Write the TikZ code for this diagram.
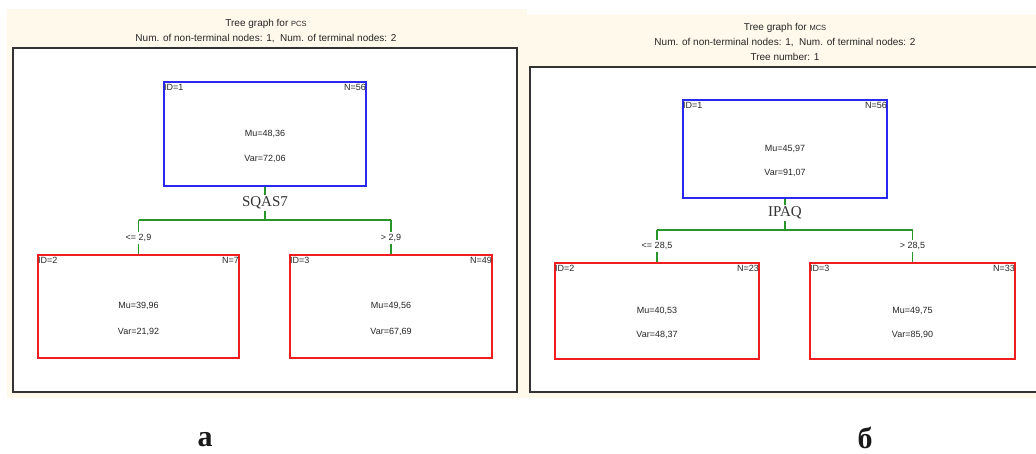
\documentclass[tikz,border=0pt]{standalone}
\usepackage{fontspec}
\setmainfont{Liberation Sans}
\newfontfamily\serifA{Liberation Serif}
\definecolor{cream}{RGB}{255,249,236}
\definecolor{boxblue}{RGB}{40,40,240}
\definecolor{boxred}{RGB}{240,30,30}
\definecolor{linegreen}{RGB}{40,150,40}
\begin{document}
\begin{tikzpicture}[x=1pt,y=-1pt,
  txt/.style={font=\fontsize{9}{10}\selectfont, inner sep=0pt, text=black!85},
  ttl/.style={font=\fontsize{10}{11}\selectfont, inner sep=0pt, text=black!85},
  rootbox/.style={draw=boxblue, line width=1.2pt, inner sep=0pt},
  leafbox/.style={draw=boxred, line width=1.2pt, inner sep=0pt},
  splitlbl/.style={font=\serifA\fontsize{15}{16}\selectfont, inner sep=2pt, text=black!80},
  condlbl/.style={font=\fontsize{9}{10}\selectfont, inner sep=2pt, text=black!85},
  conn/.style={draw=linegreen, line width=1.1pt},
  frame/.style={draw=black!80, line width=1.3pt, fill=white},
  caption/.style={font=\serifA\bfseries\fontsize{30}{32}\selectfont, inner sep=0pt, text=black!90},
  corner/.style={font=\fontsize{9}{10}\selectfont, inner sep=0pt, text=black!85}
]
\useasboundingbox (0,0) rectangle (1036,454);
\fill[white] (0,0) rectangle (1036,454);
% backgrounds
\fill[cream] (7,9) rectangle (527,398);
\fill[cream] (520,15) rectangle (1036,398);
% frames
\draw[frame] (13,48) rectangle (517,392);
\draw[frame] (530,67) rectangle (1040,392);

% ---------- panel a ----------
\node[ttl] (ta1) at (266,24) {Tree graph for {\fontsize{7.5}{8}\selectfont PCS}};
\node[ttl] (ta2) at (266,39) {Num. of non-terminal nodes: 1,\ \ Num. of terminal nodes: 2};

\node[rootbox, minimum width=202, minimum height=104] (a1) at (265,134) {};
\node[corner, anchor=north west] (a1id) at ([xshift=0.5,yshift=-3]a1.north west) {ID=1};
\node[corner, anchor=north east] (a1n) at ([xshift=-0.5,yshift=-3]a1.north east) {N=56};
\node[txt] (a1mu) at (265,134) {Mu=48,36};
\node[txt] (a1var) at (265,159) {Var=72,06};

\node[leafbox, minimum width=201, minimum height=103] (a2) at (138.5,306.5) {};
\node[corner, anchor=north west] (a2id) at ([xshift=0.5,yshift=-3]a2.north west) {ID=2};
\node[corner, anchor=north east] (a2n) at ([xshift=-0.5,yshift=-3]a2.north east) {N=7};
\node[txt] (a2mu) at (138.5,306) {Mu=39,96};
\node[txt] (a2var) at (138.5,332) {Var=21,92};

\node[leafbox, minimum width=202, minimum height=103] (a3) at (391,306.5) {};
\node[corner, anchor=north west] (a3id) at ([xshift=0.5,yshift=-3]a3.north west) {ID=3};
\node[corner, anchor=north east] (a3n) at ([xshift=-0.5,yshift=-3]a3.north east) {N=49};
\node[txt] (a3mu) at (391,306) {Mu=49,56};
\node[txt] (a3var) at (391,332) {Var=67,69};

\node[splitlbl] (as) at (265,203) {SQAS7};
\coordinate (aj) at (265,220);
\coordinate (al) at (138.5,220);
\coordinate (ar) at (391,220);
\node[condlbl] (acl) at (138.5,238) {<= 2,9};
\node[condlbl] (acr) at (391,238) {> 2,9};
\draw[conn] (a1.south) -- (as.north);
\draw[conn] (as.south) -- (aj);
\draw[conn] (al) -- (ar);
\draw[conn] (al) -- (acl.north);
\draw[conn] (acl.south) -- (a2.north);
\draw[conn] (ar) -- (acr.north);
\draw[conn] (acr.south) -- (a3.north);

% ---------- panel b ----------
\node[ttl] (tb1) at (785,28) {Tree graph for {\fontsize{7.5}{8}\selectfont MCS}};
\node[ttl] (tb2) at (785,43) {Num. of non-terminal nodes: 1,\ \ Num. of terminal nodes: 2};
\node[ttl] (tb3) at (785,57) {Tree number: 1};

\node[rootbox, minimum width=204, minimum height=98] (b1) at (785,149) {};
\node[corner, anchor=north west] (b1id) at ([xshift=0.5,yshift=-3]b1.north west) {ID=1};
\node[corner, anchor=north east] (b1n) at ([xshift=-0.5,yshift=-3]b1.north east) {N=56};
\node[txt] (b1mu) at (785,149) {Mu=45,97};
\node[txt] (b1var) at (785,173) {Var=91,07};

\node[leafbox, minimum width=204, minimum height=96] (b2) at (657,311) {};
\node[corner, anchor=north west] (b2id) at ([xshift=0.5,yshift=-3]b2.north west) {ID=2};
\node[corner, anchor=north east] (b2n) at ([xshift=-0.5,yshift=-3]b2.north east) {N=23};
\node[txt] (b2mu) at (657,311) {Mu=40,53};
\node[txt] (b2var) at (657,335) {Var=48,37};

\node[leafbox, minimum width=205, minimum height=96] (b3) at (912.5,311) {};
\node[corner, anchor=north west] (b3id) at ([xshift=0.5,yshift=-3]b3.north west) {ID=3};
\node[corner, anchor=north east] (b3n) at ([xshift=-0.5,yshift=-3]b3.north east) {N=33};
\node[txt] (b3mu) at (912.5,311) {Mu=49,75};
\node[txt] (b3var) at (912.5,335) {Var=85,90};

\node[splitlbl] (bs) at (785,213) {IPAQ};
\coordinate (bj) at (785,230);
\coordinate (bl) at (657,230);
\coordinate (br) at (912.5,230);
\node[condlbl] (bcl) at (657,246) {<= 28,5};
\node[condlbl] (bcr) at (912.5,246) {> 28,5};
\draw[conn] (b1.south) -- (bs.north);
\draw[conn] (bs.south) -- (bj);
\draw[conn] (bl) -- (br);
\draw[conn] (bl) -- (bcl.north);
\draw[conn] (bcl.south) -- (b2.north);
\draw[conn] (br) -- (bcr.north);
\draw[conn] (bcr.south) -- (b3.north);

% captions
\node[caption] (capa) at (205,440) {а};
\node[caption] (capb) at (865,438) {б};
\end{tikzpicture}
\end{document}
